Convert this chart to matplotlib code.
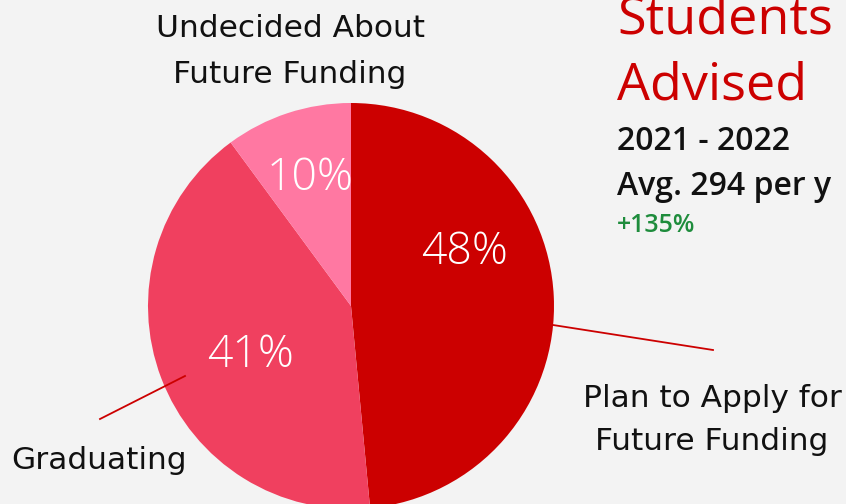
import matplotlib
matplotlib.use("Agg")
import matplotlib.pyplot as plt

categories = ["Plan to Apply for\nFuture Funding", "Graduating", "Undecided About\nFuture Funding"]
values = [48.5, 41.4, 10.1]
pct_labels = ["48%", "41%", "10%"]
colors = ["#CC0000", "#F0405F", "#FF78A2"]

W, H = 846, 504
BG = "#F3F3F3"
FONT = "Open Sans"
LFONT = "DejaVu Sans"

fig = plt.figure(figsize=(W / 100, H / 100), dpi=100, facecolor=BG)
ax = fig.add_axes([0, 0, 1, 1])
ax.set_facecolor(BG)

def Y(y):
    return H - y

cx, cy, r = 351, Y(306), 203
ax.pie(values, colors=colors, startangle=90, counterclock=False,
       center=(cx, cy), radius=r, frame=True,
       wedgeprops=dict(linewidth=0))
ax.set_xlim(0, W)
ax.set_ylim(0, H)
ax.set_aspect("equal")
ax.axis("off")

# percentage labels (center x, baseline y)
pct_pos = [(465, 264), (251, 367), (310, 190)]
for (x, y), t in zip(pct_pos, pct_labels):
    ax.text(x, Y(y), t, color="white", fontsize=32, family=FONT,
            fontweight="light", ha="center", va="baseline")

# leader lines
ax.plot([553, 713], [Y(325), Y(350)], color="#CC0000", lw=1.3)
ax.plot([185, 100], [Y(376), Y(419)], color="#CC0000", lw=1.3)

# category labels, line by line
LS = 22.5
def label(lines, x, ys, ha):
    for line, y in zip(lines, ys):
        ax.text(x, Y(y), line, fontsize=LS, family=LFONT, color="#111111",
                ha=ha, va="baseline")

label(categories[0].split("\n"), 712, [407, 450], "center")
label([categories[1]], 11, [469], "left")
label(categories[2].split("\n"), 290, [37, 83], "center")

# side title
ax.text(617, Y(33), "Students", fontsize=37.5, family=FONT, color="#CC0000",
        ha="left", va="baseline")
ax.text(617, Y(100), "Advised", fontsize=37.5, family=FONT, color="#CC0000",
        ha="left", va="baseline")
ax.text(617, Y(150), "2021 - 2022", fontsize=23, family=FONT, color="#111111",
        fontweight="semibold", ha="left", va="baseline")
ax.text(617, Y(195), "Avg. 294 per y", fontsize=23, family=FONT, color="#111111",
        fontweight="semibold", ha="left", va="baseline")
ax.text(617, Y(232), "+135%", fontsize=18, family=FONT, color="#1E8C3C",
        fontweight="semibold", ha="left", va="baseline")

fig.savefig("out.png", dpi=100, facecolor=BG)
